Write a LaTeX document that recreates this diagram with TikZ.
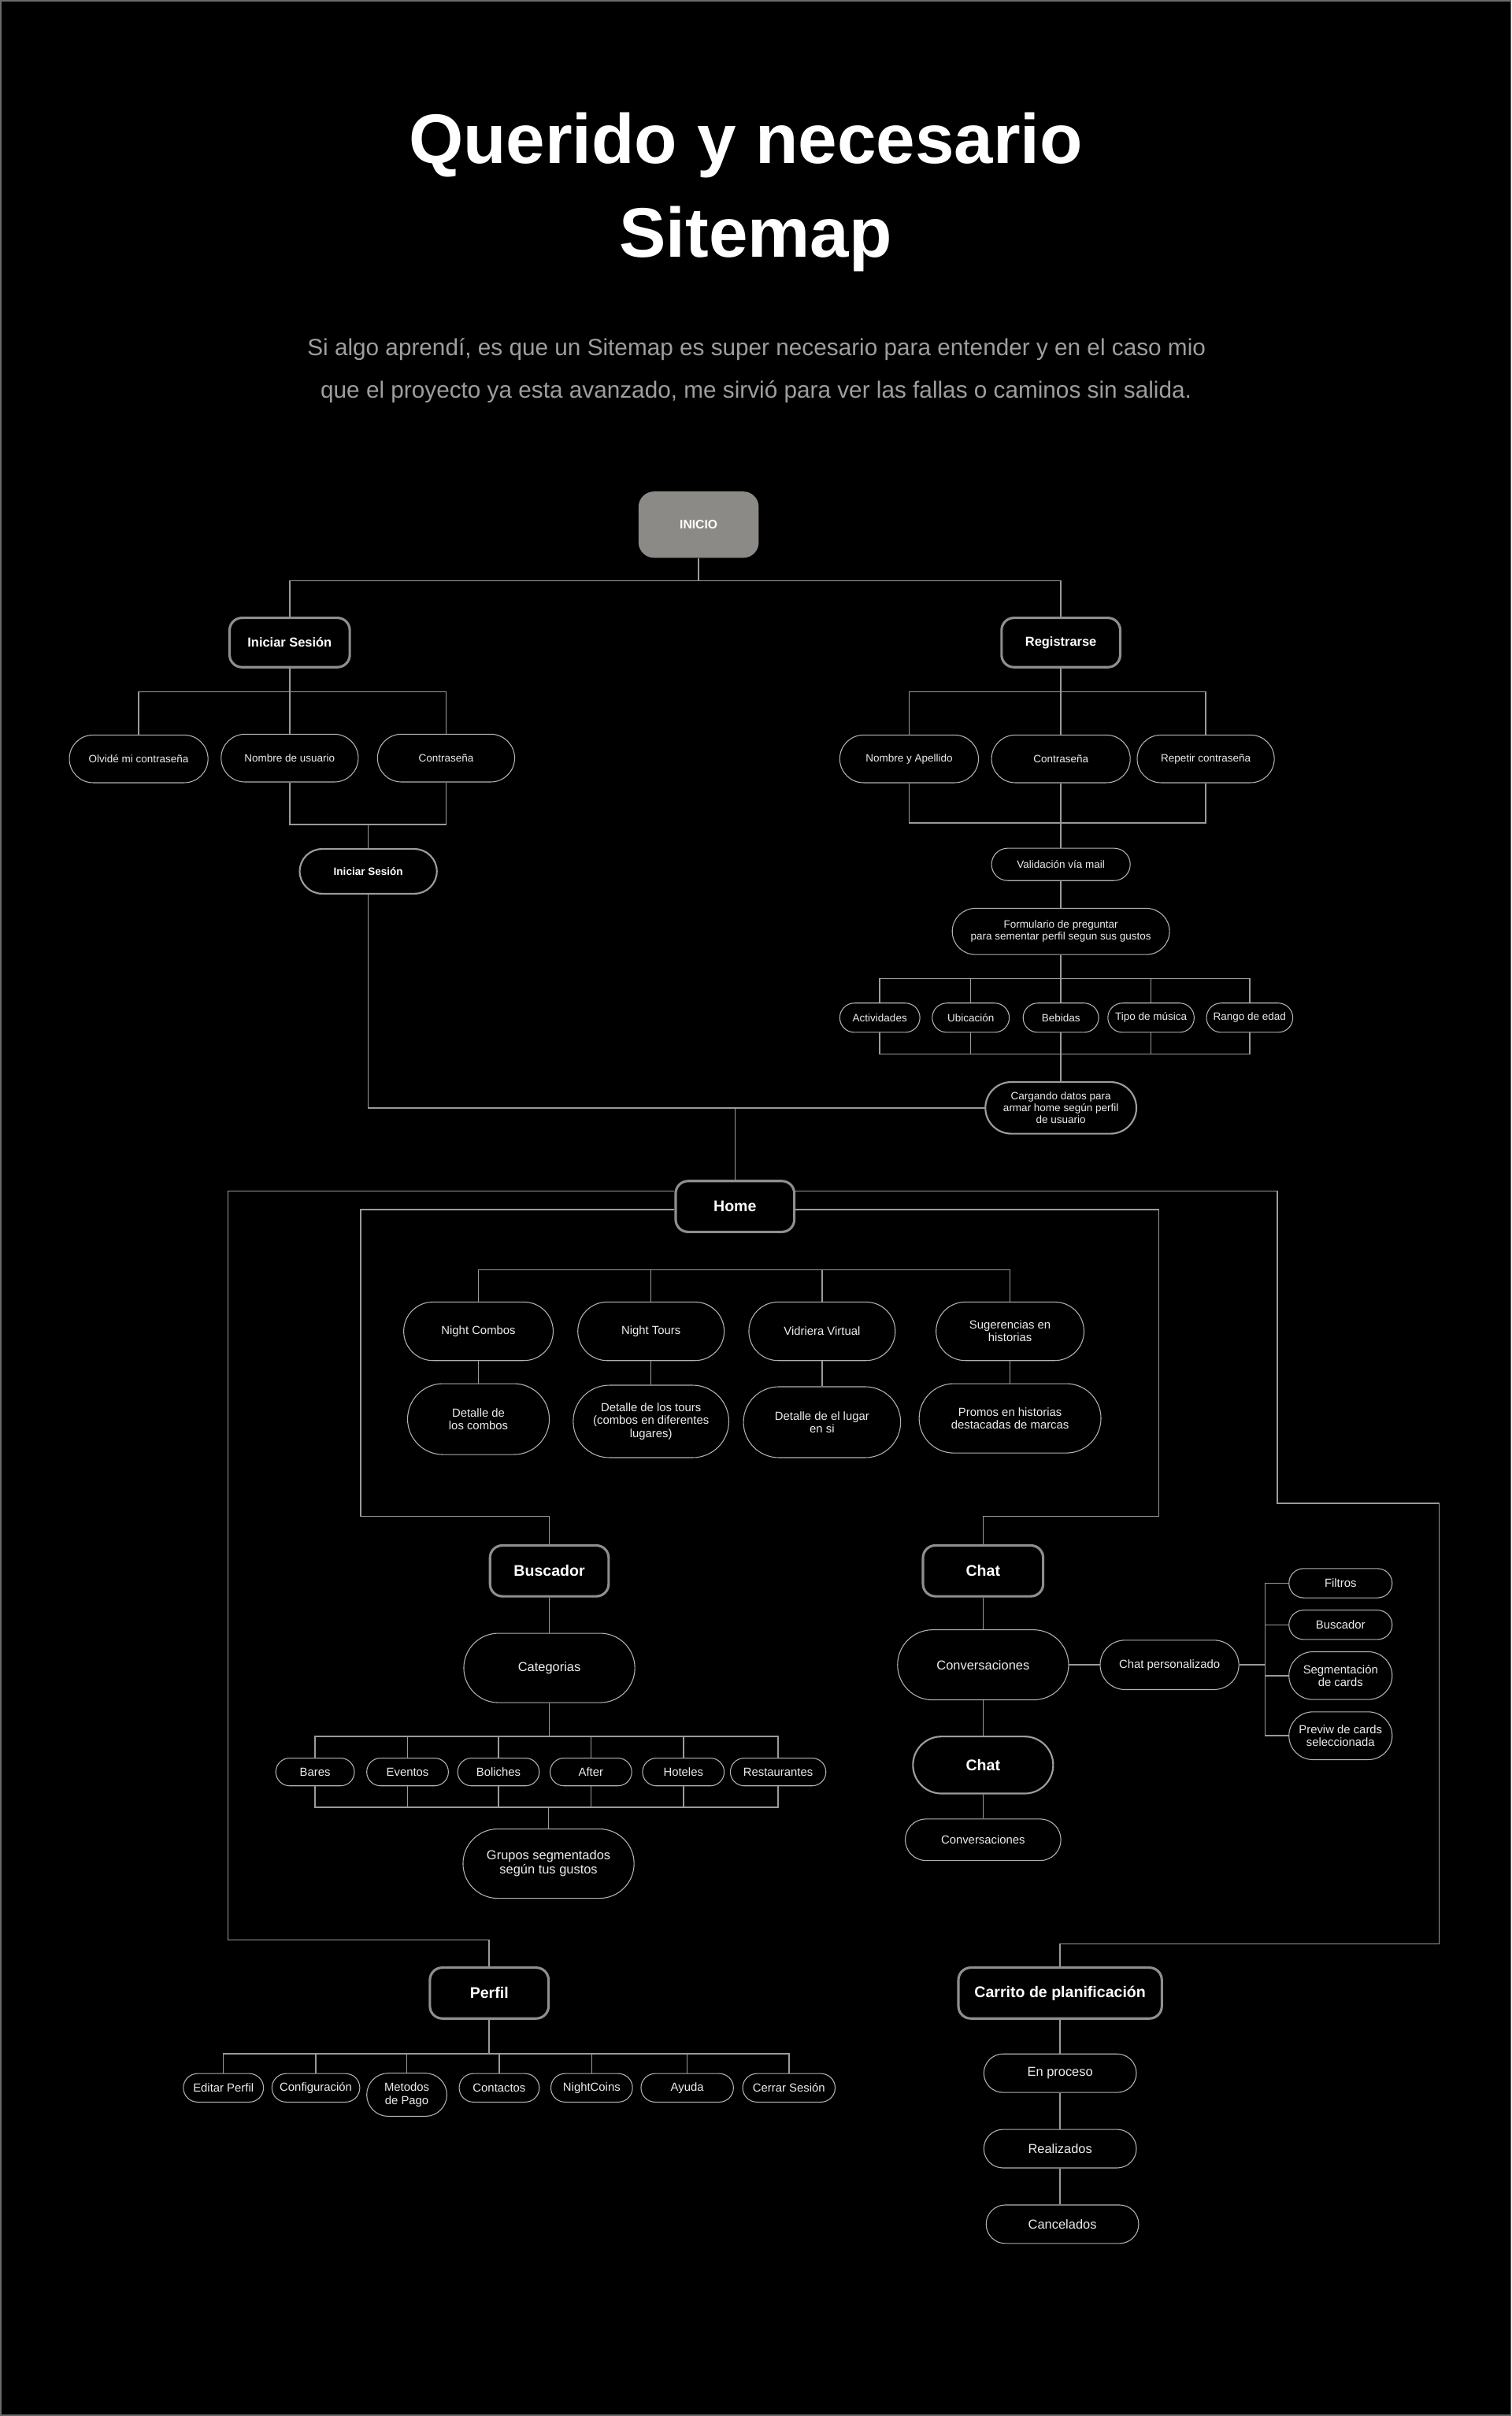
\documentclass[tikz,border=0pt]{standalone}
\usepackage{fontspec}
\setmainfont{Liberation Sans}
\usetikzlibrary{calc}
\definecolor{conncol}{HTML}{9A9A9A}
\definecolor{leafcol}{HTML}{B2B2B2}
\definecolor{maincol}{HTML}{8E8E8E}
\definecolor{semicol}{HTML}{9C9C9C}
\definecolor{txtcol}{HTML}{EDEDED}
\definecolor{iniciofill}{HTML}{8B8A87}
\definecolor{subcol}{HTML}{9E9E9E}
\definecolor{framecol}{HTML}{6A6A6A}
\newcommand{\fsA}{\fontsize{6.9}{7.7}\selectfont}
\newcommand{\fsB}{\fontsize{7.6}{8.3}\selectfont}
\newcommand{\fsC}{\fontsize{8.4}{9.2}\selectfont}
\newcommand{\fsM}{\fontsize{10}{12}\selectfont\bfseries}
\newcommand{\fsMs}{\fontsize{8.4}{10}\selectfont\bfseries}
\begin{document}
\begin{tikzpicture}[x=1pt,y=-1pt,
  conn/.style={draw=conncol,line width=0.8pt},
  leaf/.style 2 args={draw=leafcol,line width=0.55pt,rectangle,minimum width=#1,minimum height=#2,rounded corners=#2/2,inner sep=0pt,text=txtcol,align=center,fill=black},
  semi/.style 2 args={draw=semicol,line width=1.1pt,rectangle,minimum width=#1,minimum height=#2,rounded corners=#2/2,inner sep=0pt,text=white,align=center,fill=black},
  mainbox/.style 2 args={draw=maincol,line width=1.6pt,rectangle,minimum width=#1,minimum height=#2,rounded corners=8pt,inner sep=0pt,text=white,align=center,fill=black,font=\fsM},
  iniciobox/.style={fill=iniciofill,rectangle,rounded corners=10pt,minimum width=78pt,minimum height=43pt,inner sep=0pt,text=white,font=\fontsize{8}{9}\selectfont\bfseries}
]
\useasboundingbox (0,0) rectangle (981,1568);
\fill[black] (0,0) rectangle (981,1568);
\draw[framecol,line width=1pt] (0.5,0.5) rectangle (980.5,1567.5);

% title
\node[anchor=base,text=white,font=\fontsize{45.5}{55}\selectfont\bfseries,inner sep=0pt] (t1) at (484,106) {Querido y necesario};
\node[anchor=base,text=white,font=\fontsize{45.5}{55}\selectfont\bfseries,inner sep=0pt] (t2) at (490.5,167) {Sitemap};
\node[anchor=base,text=subcol,font=\fontsize{15.2}{18}\selectfont,inner sep=0pt] (s1) at (491,231) {Si algo aprendí, es que un Sitemap es super necesario para entender y en el caso mio};
\node[anchor=base,text=subcol,font=\fontsize{15.2}{18}\selectfont,inner sep=0pt] (s2) at (490.7,258.5) {que el proyecto ya esta avanzado, me sirvió para ver las fallas o caminos sin salida.};

% top
\node[iniciobox] (inicio) at (453.4,340.5) {INICIO};
\node[mainbox={78pt}{32pt},font=\fsMs] (is1) at (188,417) {Iniciar Sesión};
\node[mainbox={77pt}{32pt},font=\fsMs] (reg) at (688.5,417) {Registrarse};

\node[leaf={90pt}{31pt},font=\fsA] (olv) at (90,492.5) {Olvidé mi contraseña};
\node[leaf={89pt}{31pt},font=\fsA] (nomu) at (188,492) {Nombre de usuario};
\node[leaf={89pt}{31pt},font=\fsA] (con1) at (289.5,492) {Contraseña};
\node[leaf={90pt}{31pt},font=\fsA] (nya) at (590,492.5) {Nombre y Apellido};
\node[leaf={90pt}{31pt},font=\fsA] (con2) at (688.5,492.5) {Contraseña};
\node[leaf={89pt}{31pt},font=\fsA] (rep) at (782.5,492.5) {Repetir contraseña};

\node[semi={89pt}{29pt},font=\fontsize{6.9}{8}\selectfont\bfseries] (is2) at (239,565.5) {Iniciar Sesión};
\node[leaf={90pt}{21pt},font=\fsA] (val) at (688.5,561) {Validación vía mail};
\node[leaf={141pt}{30pt},font=\fsA] (form) at (688.5,604.5) {Formulario de preguntar\\para sementar perfil segun sus gustos};
\node[leaf={52pt}{19pt},font=\fsA] (act) at (571,660.5) {Actividades};
\node[leaf={50pt}{19pt},font=\fsA] (ubi) at (630,660.5) {Ubicación};
\node[leaf={49pt}{19pt},font=\fsA] (beb) at (688.5,660.5) {Bebidas};
\node[leaf={56pt}{19pt},font=\fsA] (tipo) at (747,660.5) {Tipo de música};
\node[leaf={56pt}{19pt},font=\fsA] (rango) at (811,660.5) {Rango de edad};
\node[semi={98pt}{33.5pt},font=\fsA,text=txtcol] (carg) at (688.5,719) {Cargando datos para\\armar home según perfil\\de usuario};

% Home
\node[mainbox={77pt}{33pt}] (home) at (477,783) {Home};
\node[leaf={97pt}{38pt},font=\fsB] (nc) at (310.5,864) {Night Combos};
\node[leaf={95pt}{38pt},font=\fsB] (nt) at (422.5,864) {Night Tours};
\node[leaf={95pt}{38pt},font=\fsB] (vv) at (533.5,864) {Vidriera Virtual};
\node[leaf={96pt}{38pt},font=\fsB] (sug) at (655.5,864) {Sugerencias en\\historias};
\node[leaf={92pt}{46pt},font=\fsB] (dc) at (310.5,921) {Detalle de\\los combos};
\node[leaf={101pt}{47pt},font=\fsB] (dt) at (422.5,922.5) {Detalle de los tours\\(combos en diferentes\\lugares)};
\node[leaf={102pt}{46pt},font=\fsB] (dl) at (533.5,923) {Detalle de el lugar\\en si};
\node[leaf={118pt}{45pt},font=\fsB] (pr) at (655.5,920.5) {Promos en historias\\destacadas de marcas};

% Buscador
\node[mainbox={77pt}{33pt}] (busc) at (356.5,1019.5) {Buscador};
\node[leaf={111pt}{45pt},font=\fsC] (cat) at (356.5,1082.5) {Categorias};
\node[leaf={51pt}{18pt},font=\fsB] (bares) at (204.5,1150) {Bares};
\node[leaf={53pt}{18pt},font=\fsB] (eventos) at (264.5,1150) {Eventos};
\node[leaf={53pt}{18pt},font=\fsB] (boliches) at (323.5,1150) {Boliches};
\node[leaf={53pt}{18pt},font=\fsB] (after) at (383.5,1150) {After};
\node[leaf={53pt}{18pt},font=\fsB] (hoteles) at (443.5,1150) {Hoteles};
\node[leaf={62pt}{18pt},font=\fsB] (rest) at (505,1150) {Restaurantes};
\node[leaf={111pt}{45pt},font=\fsC] (grupos) at (356,1209.5) {Grupos segmentados\\según tus gustos};

% Chat
\node[mainbox={78pt}{33pt}] (chat) at (638,1019.5) {Chat};
\node[leaf={111pt}{45.5pt},font=\fsC] (conv) at (638,1080.5) {Conversaciones};
\node[leaf={90pt}{32pt},font=\fsB] (chatp) at (759,1080.5) {Chat personalizado};
\node[leaf={67pt}{19pt},font=\fsB] (filtros) at (870,1027.5) {Filtros};
\node[leaf={67pt}{19pt},font=\fsB] (busc2) at (870,1054.5) {Buscador};
\node[leaf={67pt}{31pt},font=\fsB] (seg) at (870,1087.5) {Segmentación\\de cards};
\node[leaf={67pt}{31pt},font=\fsB] (prev) at (870,1126.5) {Previw de cards\\seleccionada};
\node[semi={91pt}{37pt},font=\fsM] (chat2) at (638,1145.5) {Chat};
\node[leaf={101pt}{27pt},font=\fsB] (conv2) at (638,1194) {Conversaciones};

% Perfil
\node[mainbox={77pt}{33pt}] (perfil) at (317.5,1293.5) {Perfil};
\node[leaf={52pt}{18.5pt},font=\fsB] (ep) at (145,1355) {Editar Perfil};
\node[leaf={57pt}{18.5pt},font=\fsB] (conf) at (205,1355) {Configuración};
\node[leaf={52pt}{28pt},font=\fsB] (met) at (264,1359.5) {Metodos\\de Pago};
\node[leaf={52pt}{18.5pt},font=\fsB] (cont) at (324,1355) {Contactos};
\node[leaf={53pt}{18.5pt},font=\fsB] (nco) at (384,1355) {NightCoins};
\node[leaf={60pt}{18.5pt},font=\fsB] (ayu) at (446,1355) {Ayuda};
\node[leaf={60pt}{18.5pt},font=\fsB] (cer) at (512,1355) {Cerrar Sesión};

% Carrito
\node[mainbox={132pt}{33pt}] (carr) at (688,1293.5) {Carrito de planificación};
\node[leaf={99pt}{25pt},font=\fsC] (enp) at (688,1345.5) {En proceso};
\node[leaf={99pt}{25pt},font=\fsC] (real) at (688,1394.5) {Realizados};
\node[leaf={99pt}{25pt},font=\fsC] (canc) at (689.5,1443.5) {Cancelados};

% junction coordinates
\coordinate (j1) at (453.4,377);
\coordinate (j2) at (188,449);
\coordinate (j3) at (239,535);
\coordinate (j4) at (477,719);
\coordinate (j5) at (688.5,449);
\coordinate (j6) at (688.5,534);
\coordinate (j7) at (688.5,635);
\coordinate (j8) at (688.5,684);
\coordinate (hb) at (477,824);
\coordinate (j10) at (356.5,1127);
\coordinate (j11) at (356,1173);
\coordinate (j12) at (821,1080.5);
\coordinate (j13) at (317.5,1333);

% connectors
\draw[conn] (inicio.south) -- (j1);
\draw[conn] (is1.north) |- (j1) -| (reg.north);
\draw[conn] (is1.south) -- (j2);
\draw[conn] (olv.north) |- (j2) -| (con1.north);
\draw[conn] (j2) -- (nomu.north);
\draw[conn] (nomu.south) |- (j3) -| (con1.south);
\draw[conn] (j3) -- (is2.north);
\draw[conn] (is2.south) |- (carg.west);
\draw[conn] (j4) -- (home.north);

\draw[conn] (reg.south) -- (j5);
\draw[conn] (nya.north) |- (j5) -| (rep.north);
\draw[conn] (j5) -- (con2.north);
\draw[conn] (nya.south) |- (j6) -| (rep.south);
\draw[conn] (con2.south) -- (val.north);
\draw[conn] (val.south) -- (form.north);
\draw[conn] (form.south) -- (j7);
\draw[conn] (act.north) |- (j7) -| (rango.north);
\draw[conn] (ubi.north) |- (j7);
\draw[conn] (tipo.north) |- (j7);
\draw[conn] (j7) -- (beb.north);
\draw[conn] (act.south) |- (j8) -| (rango.south);
\draw[conn] (ubi.south) |- (j8);
\draw[conn] (tipo.south) |- (j8);
\draw[conn] (beb.south) -- (carg.north);

% Home branches
\draw[conn] ([yshift=10pt]home.west) -| (148,1259) -| (perfil.north);
\draw[conn] ([yshift=-2pt]home.west) -| (234,984) -| (busc.north);
\draw[conn] ([yshift=10pt]home.east) -| (829,975.5) -| (934,1261.5) -| (carr.north);
\draw[conn] ([yshift=-2pt]home.east) -| (752,984) -| (chat.north);

\draw[conn] (nc.north) |- (hb) -| (sug.north);
\draw[conn] (nt.north) |- (hb);
\draw[conn] (vv.north) |- (hb);
\draw[conn] (nc.south) -- (dc.north);
\draw[conn] (nt.south) -- (dt.north);
\draw[conn] (vv.south) -- (dl.north);
\draw[conn] (sug.south) -- (pr.north);

% Buscador
\draw[conn] (busc.south) -- (cat.north);
\draw[conn] (cat.south) -- (j10);
\draw[conn] (bares.north) |- (j10) -| (rest.north);
\draw[conn] (eventos.north) |- (j10);
\draw[conn] (boliches.north) |- (j10);
\draw[conn] (after.north) |- (j10);
\draw[conn] (hoteles.north) |- (j10);
\draw[conn] (bares.south) |- (j11) -| (rest.south);
\draw[conn] (eventos.south) |- (j11);
\draw[conn] (boliches.south) |- (j11);
\draw[conn] (after.south) |- (j11);
\draw[conn] (hoteles.south) |- (j11);
\draw[conn] (j11) -- (grupos.north);

% Chat
\draw[conn] (chat.south) -- (conv.north);
\draw[conn] (conv.east) -- (chatp.west);
\draw[conn] (chatp.east) -- (j12);
\draw[conn] (filtros.west) -| (j12 |- prev.west) -- (prev.west);
\draw[conn] (busc2.west) -- (busc2.west -| j12);
\draw[conn] (seg.west) -- (seg.west -| j12);
\draw[conn] (conv.south) -- (chat2.north);
\draw[conn] (chat2.south) -- (conv2.north);

% Perfil
\draw[conn] (perfil.south) -- (j13);
\draw[conn] (ep.north) |- (j13) -| (cer.north);
\draw[conn] (conf.north) |- (j13);
\draw[conn] (met.north) |- (j13);
\draw[conn] (cont.north) |- (j13);
\draw[conn] (nco.north) |- (j13);
\draw[conn] (ayu.north) |- (j13);

% Carrito
\draw[conn] (carr.south) -- (enp.north);
\draw[conn] (enp.south) -- (real.north);
\draw[conn] (real.south) -- (real.south |- canc.north);
\end{tikzpicture}
\end{document}
